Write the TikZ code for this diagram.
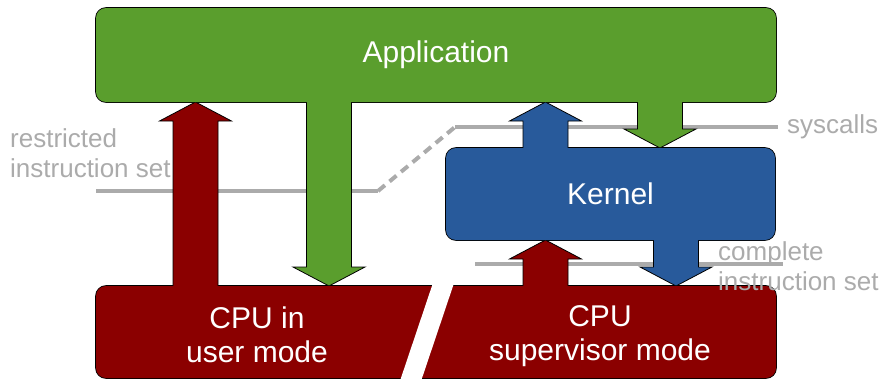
\documentclass[tikz,border=0pt]{standalone}
\usepackage{fontspec}
\setmainfont{Liberation Sans}
\usetikzlibrary{calc}

\definecolor{appgreen}{HTML}{5A9E2D}
\definecolor{kernelblue}{HTML}{285A9B}
\definecolor{cpured}{HTML}{8B0000}
\definecolor{labelgray}{HTML}{ABABAB}

\pgfdeclarelayer{background}
\pgfdeclarelayer{middle}
\pgfsetlayers{background,middle,main}

\tikzset{
  layerbox/.style={rectangle, rounded corners=10pt, outer sep=0pt, inner sep=0pt,
    text=white, font=\fontsize{30}{34}\selectfont, align=center},
  boxline/.style={line width=1.6pt, rounded corners=10pt},
  grayline/.style={labelgray, line width=4pt},
  graylabel/.style={labelgray, inner sep=0pt, align=left,
    font=\fontsize{26}{30}\selectfont}
}

% block arrow: colour, column x, tail, tip
\newcommand\blockarrow[4]{%
  \filldraw[fill=#1, draw=black, line width=.8pt]
    let \p1=(#3), \p2=(#4), \p3=(#2,0), \n1={sign(\y2-\y1)} in
    (\x3-22.5pt,\y1-6pt*\n1) -- (\x3-22.5pt,\y2-19pt*\n1) -- (\x3-36pt,\y2-19pt*\n1)
    -- (\x3,\y2) -- (\x3+36pt,\y2-19pt*\n1) -- (\x3+22.5pt,\y2-19pt*\n1)
    -- (\x3+22.5pt,\y1-6pt*\n1) -- cycle;}

\begin{document}
\begin{tikzpicture}[x=1pt,y=-1pt]
  \useasboundingbox (0,0) rectangle (886,380);

  \node[layerbox, fill=appgreen, minimum width=680pt, minimum height=94pt] (app) at (436,55) {\raisebox{-3pt}{Application}};
  \node[layerbox, fill=kernelblue, minimum width=329pt, minimum height=92pt] (kernel) at (610.5,194) {\raisebox{-2pt}{Kernel}};
  \node[layerbox, fill=cpured, minimum width=680pt, minimum height=92pt] (cpu) at (436,332) {};
  \node[layerbox] (usertext) at (257,335) {CPU in\\user mode};
  \node[layerbox] (supertext) at (600,336.5) {CPU\\supervisor mode};
  % split of the cpu box
  \draw[white, line width=20pt] (444.4,280.3) -- (409.6,383.7);

  \coordinate (restrL) at (96,191);
  \coordinate (restrR) at (378,191);
  \coordinate (sysL) at (455,127);
  \coordinate (sysR) at (778,127);
  \coordinate (compL) at (475,264);
  \coordinate (compR) at (783,264);

  \begin{pgfonlayer}{background}
    \draw[grayline] (restrL) -- (restrR);
    \draw[grayline, dash pattern=on 9pt off 6pt] (restrR) -- (sysL);
    \draw[grayline] (sysL) -- (sysR);
    \draw[grayline] (compL) -- (compR);
    \foreach \b in {app,kernel,cpu}
      \draw[boxline] (\b.south west) rectangle (\b.north east);
  \end{pgfonlayer}

  \begin{pgfonlayer}{middle}
    \blockarrow{cpured}{195.5}{cpu.north}{app.south}
    \blockarrow{appgreen}{329}{app.south}{cpu.north}
    \blockarrow{kernelblue}{545.5}{kernel.north}{app.south}
    \blockarrow{appgreen}{660}{app.south}{kernel.north}
    \blockarrow{cpured}{545.5}{cpu.north}{kernel.south}
    \blockarrow{kernelblue}{676}{kernel.south}{cpu.north}
  \end{pgfonlayer}

  \node[graylabel, anchor=west] (restricted) at (10,153) {restricted\\instruction set};
  \node[graylabel, anchor=west] (syscalls) at (787,127) {syscalls};
  \node[graylabel, anchor=west] (complete) at (718,266.5) {complete\\instruction set};
\end{tikzpicture}
\end{document}
